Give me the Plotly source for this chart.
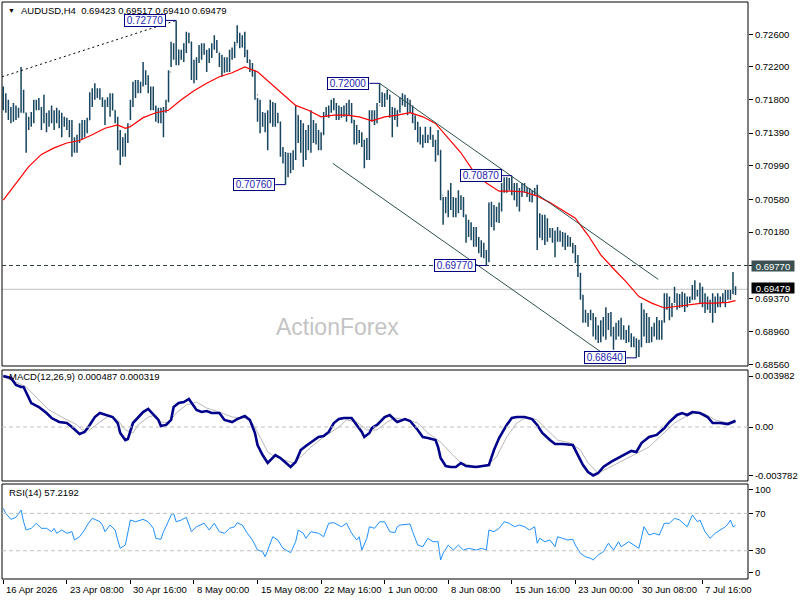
import plotly.graph_objects as go

# ---------------- data ----------------
symbol = "AUDUSD,H4"
first_open = 0.7185

highs = [
    0.7196, 0.7188, 0.7180, 0.7171, 0.7176, 0.7173, 0.7170, 0.7220, 0.7192, 0.7164,
    0.7159, 0.7165, 0.7180, 0.7180, 0.7182, 0.7171, 0.7186, 0.7164, 0.7167, 0.7173,
    0.7167, 0.7170, 0.7167, 0.7164, 0.7159, 0.7158, 0.7155, 0.7155, 0.7134, 0.7137,
    0.7151, 0.7155, 0.7155, 0.7158, 0.7189, 0.7194, 0.7200, 0.7194, 0.7194, 0.7183,
    0.7180, 0.7183, 0.7188, 0.7188, 0.7167, 0.7159, 0.7143, 0.7134, 0.7139, 0.7151,
    0.7180, 0.7202, 0.7204, 0.7204, 0.7202, 0.7226, 0.7216, 0.7210, 0.7196, 0.7196,
    0.7173, 0.7170, 0.7170, 0.7171, 0.7180, 0.7216, 0.7251, 0.7249, 0.7277, 0.7241,
    0.7241, 0.7249, 0.7263, 0.7262, 0.7251, 0.7229, 0.7232, 0.7247, 0.7249, 0.7249,
    0.7241, 0.7243, 0.7249, 0.7259, 0.7253, 0.7237, 0.7235, 0.7232, 0.7232, 0.7241,
    0.7244, 0.7251, 0.7271, 0.7262, 0.7259, 0.7263, 0.7241, 0.7229, 0.7225, 0.7216,
    0.7182, 0.7180, 0.7165, 0.7164, 0.7167, 0.7180, 0.7177, 0.7176, 0.7164, 0.7153,
    0.7122, 0.7116, 0.7115, 0.7115, 0.7118, 0.7173, 0.7161, 0.7155, 0.7151, 0.7143,
    0.7149, 0.7167, 0.7155, 0.7151, 0.7143, 0.7140, 0.7165, 0.7171, 0.7173, 0.7180,
    0.7182, 0.7176, 0.7173, 0.7171, 0.7173, 0.7176, 0.7180, 0.7176, 0.7155, 0.7149,
    0.7143, 0.7140, 0.7131, 0.7133, 0.7167, 0.7167, 0.7167, 0.7176, 0.7200, 0.7189,
    0.7188, 0.7192, 0.7186, 0.7171, 0.7170, 0.7167, 0.7183, 0.7188, 0.7186, 0.7182,
    0.7180, 0.7173, 0.7161, 0.7153, 0.7147, 0.7137, 0.7147, 0.7137, 0.7147, 0.7137,
    0.7131, 0.7143, 0.7118, 0.7061, 0.7061, 0.7069, 0.7078, 0.7061, 0.7060, 0.7069,
    0.7063, 0.7061, 0.7039, 0.7033, 0.7030, 0.7024, 0.7024, 0.7012, 0.7008, 0.7005,
    0.6996, 0.7054, 0.7055, 0.7051, 0.7049, 0.7054, 0.7078, 0.7085, 0.7085, 0.7084,
    0.7087, 0.7078, 0.7078, 0.7072, 0.7078, 0.7078, 0.7073, 0.7072, 0.7069, 0.7072,
    0.7076, 0.7041, 0.7039, 0.7039, 0.7035, 0.7023, 0.7023, 0.7020, 0.7024, 0.7020,
    0.7018, 0.7017, 0.7014, 0.7012, 0.7005, 0.7002, 0.6990, 0.6968, 0.6941, 0.6923,
    0.6919, 0.6923, 0.6919, 0.6914, 0.6904, 0.6910, 0.6914, 0.6926, 0.6919, 0.6920,
    0.6902, 0.6907, 0.6910, 0.6913, 0.6904, 0.6898, 0.6904, 0.6894, 0.6890, 0.6888,
    0.6886, 0.6931, 0.6923, 0.6919, 0.6914, 0.6902, 0.6907, 0.6914, 0.6910, 0.6910,
    0.6943, 0.6943, 0.6939, 0.6931, 0.6951, 0.6943, 0.6942, 0.6945, 0.6943, 0.6939,
    0.6939, 0.6953, 0.6959, 0.6947, 0.6956, 0.6951, 0.6943, 0.6939, 0.6935, 0.6943,
    0.6939, 0.6943, 0.6939, 0.6943, 0.6947, 0.6947, 0.6947, 0.6969, 0.69517,
]

lows = [
    0.7167, 0.7164, 0.7155, 0.7151, 0.7153, 0.7155, 0.7158, 0.7164, 0.7164, 0.7115,
    0.7143, 0.7147, 0.7151, 0.7167, 0.7167, 0.7143, 0.7151, 0.7140, 0.7147, 0.7151,
    0.7143, 0.7151, 0.7145, 0.7134, 0.7147, 0.7143, 0.7134, 0.7110, 0.7115, 0.7115,
    0.7127, 0.7131, 0.7134, 0.7139, 0.7155, 0.7171, 0.7180, 0.7182, 0.7180, 0.7171,
    0.7149, 0.7171, 0.7159, 0.7167, 0.7151, 0.7118, 0.7100, 0.7110, 0.7110, 0.7127,
    0.7155, 0.7171, 0.7182, 0.7188, 0.7188, 0.7196, 0.7198, 0.7188, 0.7167, 0.7167,
    0.7153, 0.7151, 0.7151, 0.7134, 0.7164, 0.7177, 0.7220, 0.7229, 0.7222, 0.7222,
    0.7229, 0.7226, 0.7237, 0.7249, 0.7204, 0.7200, 0.7204, 0.7225, 0.7229, 0.7235,
    0.7214, 0.7225, 0.7231, 0.7241, 0.7237, 0.7220, 0.7208, 0.7213, 0.7214, 0.7214,
    0.7229, 0.7231, 0.7249, 0.7243, 0.7244, 0.7232, 0.7225, 0.7214, 0.7208, 0.7180,
    0.7153, 0.7139, 0.7147, 0.7140, 0.7118, 0.7151, 0.7147, 0.7147, 0.7151, 0.7110,
    0.7102, 0.7076, 0.7085, 0.7090, 0.7094, 0.7106, 0.7127, 0.7115, 0.7098, 0.7106,
    0.7118, 0.7115, 0.7127, 0.7125, 0.7118, 0.7118, 0.7137, 0.7159, 0.7158, 0.7164,
    0.7167, 0.7155, 0.7155, 0.7158, 0.7159, 0.7153, 0.7161, 0.7151, 0.7125, 0.7125,
    0.7127, 0.7122, 0.7096, 0.7106, 0.7106, 0.7153, 0.7149, 0.7151, 0.7176, 0.7171,
    0.7171, 0.7180, 0.7158, 0.7134, 0.7155, 0.7147, 0.7164, 0.7173, 0.7171, 0.7161,
    0.7164, 0.7151, 0.7143, 0.7128, 0.7125, 0.7121, 0.7127, 0.7127, 0.7131, 0.7122,
    0.7104, 0.7112, 0.7057, 0.7027, 0.7041, 0.7036, 0.7045, 0.7036, 0.7036, 0.7041,
    0.7045, 0.7036, 0.7005, 0.7012, 0.7008, 0.7000, 0.7000, 0.6992, 0.6987, 0.6986,
    0.6977, 0.6981, 0.7024, 0.7020, 0.7030, 0.7029, 0.7043, 0.7066, 0.7066, 0.7069,
    0.7063, 0.7057, 0.7049, 0.7043, 0.7061, 0.7066, 0.7061, 0.7055, 0.7054, 0.7063,
    0.6996, 0.7011, 0.7008, 0.7002, 0.7006, 0.7011, 0.7005, 0.6987, 0.7006, 0.7006,
    0.7000, 0.6996, 0.7000, 0.7000, 0.6992, 0.6980, 0.6963, 0.6935, 0.6907, 0.6907,
    0.6902, 0.6910, 0.6890, 0.6886, 0.6882, 0.6883, 0.6890, 0.6886, 0.6898, 0.6890,
    0.6874, 0.6886, 0.6890, 0.6886, 0.6886, 0.6882, 0.6883, 0.6877, 0.6877, 0.6864,
    0.6865, 0.6877, 0.6890, 0.6882, 0.6882, 0.6883, 0.6890, 0.6886, 0.6886, 0.6886,
    0.6907, 0.6923, 0.6910, 0.6914, 0.6931, 0.6923, 0.6925, 0.6926, 0.6920, 0.6926,
    0.6931, 0.6935, 0.6935, 0.6939, 0.6931, 0.6926, 0.6919, 0.6923, 0.6919, 0.6907,
    0.6919, 0.6926, 0.6926, 0.6931, 0.6926, 0.6935, 0.6935, 0.6942, 0.69410,
]

closes = [
    0.7173, 0.7167, 0.7161, 0.7165, 0.7160, 0.7167, 0.7167, 0.7186, 0.7164, 0.7149,
    0.7155, 0.7164, 0.7176, 0.7173, 0.7170, 0.7161, 0.7158, 0.7155, 0.7165, 0.7161,
    0.7164, 0.7161, 0.7158, 0.7151, 0.7153, 0.7149, 0.7149, 0.7131, 0.7127, 0.7133,
    0.7143, 0.7149, 0.7153, 0.7155, 0.7180, 0.7186, 0.7189, 0.7186, 0.7182, 0.7177,
    0.7173, 0.7180, 0.7180, 0.7167, 0.7158, 0.7131, 0.7118, 0.7125, 0.7137, 0.7149,
    0.7173, 0.7192, 0.7194, 0.7198, 0.7198, 0.7210, 0.7204, 0.7192, 0.7180, 0.7170,
    0.7161, 0.7161, 0.7161, 0.7167, 0.7177, 0.7214, 0.7241, 0.7235, 0.7241, 0.7232,
    0.7235, 0.7243, 0.7255, 0.7251, 0.7216, 0.7222, 0.7229, 0.7241, 0.7241, 0.7238,
    0.7229, 0.7235, 0.7247, 0.7247, 0.7238, 0.7229, 0.7219, 0.7222, 0.7229, 0.7235,
    0.7238, 0.7247, 0.7255, 0.7253, 0.7253, 0.7238, 0.7229, 0.7222, 0.7216, 0.7186,
    0.7161, 0.7155, 0.7158, 0.7149, 0.7161, 0.7167, 0.7170, 0.7161, 0.7153, 0.7118,
    0.7112, 0.7100, 0.7106, 0.7104, 0.7112, 0.7161, 0.7137, 0.7131, 0.7131, 0.7137,
    0.7143, 0.7149, 0.7143, 0.7137, 0.7131, 0.7137, 0.7161, 0.7165, 0.7170, 0.7173,
    0.7170, 0.7165, 0.7165, 0.7165, 0.7167, 0.7170, 0.7167, 0.7155, 0.7143, 0.7137,
    0.7134, 0.7128, 0.7118, 0.7125, 0.7161, 0.7161, 0.7165, 0.7173, 0.7186, 0.7180,
    0.7186, 0.7183, 0.7167, 0.7165, 0.7161, 0.7167, 0.7180, 0.7180, 0.7180, 0.7173,
    0.7170, 0.7158, 0.7149, 0.7137, 0.7133, 0.7131, 0.7133, 0.7134, 0.7134, 0.7127,
    0.7125, 0.7118, 0.7063, 0.7045, 0.7051, 0.7063, 0.7057, 0.7051, 0.7057, 0.7057,
    0.7051, 0.7039, 0.7023, 0.7020, 0.7020, 0.7014, 0.7008, 0.7002, 0.6996, 0.6990,
    0.6986, 0.7045, 0.7039, 0.7039, 0.7045, 0.7051, 0.7072, 0.7076, 0.7076, 0.7078,
    0.7069, 0.7063, 0.7057, 0.7069, 0.7069, 0.7069, 0.7066, 0.7063, 0.7067, 0.7069,
    0.7027, 0.7027, 0.7027, 0.7027, 0.7018, 0.7018, 0.7014, 0.7014, 0.7014, 0.7008,
    0.7008, 0.7008, 0.7006, 0.7002, 0.6996, 0.6986, 0.6965, 0.6941, 0.6916, 0.6913,
    0.6916, 0.6913, 0.6898, 0.6898, 0.6894, 0.6898, 0.6910, 0.6910, 0.6908, 0.6898,
    0.6892, 0.6898, 0.6904, 0.6894, 0.6892, 0.6892, 0.6890, 0.6886, 0.6883, 0.6874,
    0.6883, 0.6923, 0.6898, 0.6904, 0.6892, 0.6898, 0.6904, 0.6898, 0.6904, 0.6908,
    0.6935, 0.6929, 0.6923, 0.6929, 0.6939, 0.6935, 0.6935, 0.6935, 0.6932, 0.6935,
    0.6935, 0.6947, 0.6945, 0.6945, 0.6941, 0.6935, 0.6929, 0.6929, 0.6929, 0.6935,
    0.6935, 0.6935, 0.6935, 0.6939, 0.6941, 0.6941, 0.6943, 0.69423, 0.69479,
]

opens = [first_open] + closes[:-1]

# red moving average (bar index, value)
ma_i = [0, 5, 10, 15, 20, 25, 30, 35, 40, 45, 48, 50, 55, 60, 65, 70, 75, 80, 85, 90,
        95, 100, 105, 110, 115, 120, 125, 130, 135, 140, 145, 150, 155, 160, 165, 170,
        175, 180, 185, 190, 195, 200, 205, 210, 215, 220, 225, 230, 235, 240, 245, 250,
        255, 260, 265, 270, 275, 280, 285, 288]
ma_v = [0.7057, 0.7078, 0.7098, 0.7113, 0.7121, 0.7127, 0.7130, 0.7137, 0.7145, 0.7149,
        0.7145, 0.7147, 0.7158, 0.7164, 0.7167, 0.7180, 0.7191, 0.7200, 0.7208, 0.7213,
        0.7220, 0.7214, 0.7200, 0.7186, 0.7173, 0.7167, 0.7159, 0.7161, 0.7161, 0.7159,
        0.7154, 0.7159, 0.7161, 0.7164, 0.7159, 0.7151, 0.7133, 0.7115, 0.7092, 0.7078,
        0.7068, 0.7068, 0.7067, 0.7062, 0.7054, 0.7045, 0.7035, 0.7014, 0.6990, 0.6973,
        0.6957, 0.6939, 0.6931, 0.6925, 0.6927, 0.6929, 0.6931, 0.6931, 0.6932, 0.6934]

# MACD main line (bar index, value)
macd_i = [0, 3, 5, 7, 8, 9, 11, 14, 17, 19, 22, 25, 27, 30, 32, 34, 36, 38, 41, 43,
          45, 46, 48, 49, 51, 53, 55, 57, 59, 61, 62, 64, 66, 67, 69, 71, 73, 74, 76, 78,
          80, 82, 85, 87, 90, 92, 95, 97, 99, 100, 102, 104, 105, 107, 109, 111, 113, 115,
          117, 119, 121, 124, 126, 128, 130, 132, 134, 137, 139, 141, 142, 144, 145, 147,
          150, 152, 154, 155, 158, 160, 163, 165, 167, 170, 171, 172, 174, 176, 178, 180,
          182, 186, 191, 193, 195, 198, 200, 202, 205, 208, 210, 212, 215, 217, 220, 224,
          226, 228, 230, 232, 234, 236, 239, 242, 244, 247, 249, 251, 254, 257, 260, 262,
          265, 267, 269, 271, 274, 277, 279, 282, 285, 287, 288]
macd_v = [0.003982, 0.00383, 0.00328, 0.00312, 0.00312, 0.00266, 0.00187, 0.00156, 0.00109, 0.00070,
          0.00039, 0.00031, 0.0, -0.00055, -0.00039, 0.00016, 0.00078, 0.00109, 0.00094, 0.00078,
          0.00031, -0.00047, -0.00102, -0.00094, 0.00031, 0.00070, 0.00117, 0.00141, 0.00094, 0.00055,
          0.00008, 0.00016, 0.00055, 0.00156, 0.00187, 0.00195, 0.00219, 0.00187, 0.00133, 0.00117,
          0.00125, 0.00109, 0.00109, 0.00055, 0.00039, 0.00062, 0.00086, 0.00055, -0.00047, -0.00141,
          -0.00219, -0.00281, -0.00258, -0.00219, -0.00242, -0.00281, -0.00312, -0.00273,
          -0.00180, -0.00148, -0.00117, -0.00078, -0.00070, -0.00039, 0.00031, 0.00062, 0.00070, 0.00070,
          0.00016, -0.00039, -0.00078, -0.00047, -0.00008, 0.00016,
          0.00078, 0.00094, 0.00055, 0.00039, 0.00062, 0.00047, -0.00023, -0.00078, -0.00086, -0.00102,
          -0.00156, -0.00242, -0.00305, -0.00312, -0.00312, -0.00281,
          -0.00305, -0.00312, -0.00297, -0.00180, -0.00086, 0.00016, 0.00070, 0.00078, 0.00078, 0.00062,
          0.00016, -0.00047, -0.00102, -0.00133, -0.00133, -0.00141,
          -0.00219, -0.00297, -0.00351, -0.003782, -0.00359, -0.00312, -0.00273, -0.00242, -0.00219,
          -0.00187, -0.00195, -0.00125, -0.00078, -0.00062, -0.00008, 0.00039,
          0.00094, 0.00109, 0.00094, 0.00117, 0.00109, 0.00078, 0.00031, 0.00031, 0.00023, 0.00039, 0.000487]

# MACD signal line (bar index, value)
sig_i = [0, 1, 5, 9, 13, 18, 23, 29, 31, 34, 38, 42, 45, 48, 51, 53, 57, 60, 62, 65, 68, 72,
         76, 80, 85, 90, 95, 98, 101, 104, 107, 111, 114, 117, 121, 126, 132, 135, 139, 143,
         147, 151, 154, 159, 163, 167, 172, 176, 180, 185, 190, 194, 198, 202, 206, 210, 214,
         218, 223, 227, 230, 234, 238, 244, 249, 254, 259, 264, 268, 272, 276, 280, 285, 288]
sig_v = [0.0039, 0.00383, 0.00351, 0.00312, 0.00234, 0.00133, 0.00078, 0.00016, -0.00023, -0.00023,
         0.00039, 0.00094, 0.00055, -0.00023, -0.00047, 0.00016, 0.00078, 0.00094, 0.00039, 0.00031,
         0.00109, 0.00172, 0.00195, 0.00148, 0.00117, 0.00078, 0.00070, 0.00031, -0.00078, -0.00195,
         -0.00234, -0.00258, -0.00281, -0.00234, -0.00156, -0.00078, 0.0, 0.00055, 0.00039, -0.00023,
         -0.00023, 0.00039, 0.00070, 0.00055, 0.00031, -0.00047, -0.00117, -0.00203, -0.00281, -0.00305,
         -0.00305, -0.00234, -0.00078, 0.00031, 0.00078, 0.00055, -0.00023, -0.00102, -0.00125, -0.00180,
         -0.00281, -0.00359, -0.00320, -0.00258, -0.00203, -0.00156, -0.00062, 0.00031, 0.00078, 0.00109,
         0.00102, 0.00055, 0.00031, 0.000319]

# RSI(14) (bar index, value)
rsi_i = [0, 1, 3, 5, 7, 8, 9, 11, 13, 15, 17, 19, 20, 21, 23, 25, 27, 28, 30, 32, 33, 35, 36,
         38, 39, 40, 42, 44, 45, 46, 48, 49, 50, 52, 55, 57, 59, 60, 62, 63, 64, 66, 67, 68,
         70, 72, 74, 76, 79, 81, 83, 85, 87, 89, 91, 92, 94, 96, 98, 100, 102, 103, 105, 106,
         108, 110, 113, 115, 116, 118, 119, 121, 124, 126, 128, 130, 133, 135, 137, 139, 140,
         141, 143, 144, 146, 148, 150, 152, 154, 155, 156, 160, 161, 163, 165, 167, 169, 171,
         172, 173, 175, 177, 179, 181, 183, 186, 188, 190, 191, 193, 195, 197, 199, 201, 203,
         205, 207, 209, 210, 211, 213, 215, 217, 218, 220, 222, 224, 225, 227, 229, 231, 232,
         234, 236, 238, 240, 242, 243, 246, 248, 250, 252, 254, 256, 258, 260, 262, 264, 266,
         269, 271, 273, 274, 276, 278, 280, 282, 284, 285, 286, 287, 288]
rsi_v = [75.4, 70.0, 63.6, 65.8, 73.6, 61.0, 52.2, 54.0, 59.4, 54.0, 54.0, 50.4, 54.0, 48.7,
         52.2, 48.7, 50.4, 41.5, 45.0, 52.2, 57.5, 64.7, 63.6, 61.0, 57.5, 50.4, 57.5, 52.2,
         41.5, 32.6, 36.1, 48.7, 62.9, 61.0, 63.6, 61.0, 54.0, 43.3, 42.2, 50.4, 55.7, 68.2,
         70.0, 61.0, 62.9, 65.8, 50.4, 55.7, 59.4, 52.2, 59.4, 50.4, 48.7, 54.0, 55.7, 60.0,
         57.5, 48.7, 41.5, 30.8, 29.0, 23.6, 38.0, 45.0, 41.5, 32.6, 27.9, 39.7, 52.2, 48.7,
         43.3, 50.4, 48.7, 45.0, 59.4, 60.0, 55.7, 59.4, 48.7, 41.5, 45.0, 30.8, 43.3, 55.7,
         54.0, 61.0, 61.0, 50.4, 49.3, 55.7, 57.5, 58.6, 50.4, 36.1, 34.3, 43.3, 39.7, 39.7,
         20.1, 27.3, 36.1, 30.8, 36.1, 30.8, 32.6, 30.8, 32.6, 30.8, 52.2, 50.4, 54.0, 61.0,
         59.4, 55.7, 57.5, 55.7, 52.2, 55.7, 38.0, 43.3, 39.7, 41.5, 34.3, 45.0, 43.3, 41.5,
         42.2, 36.1, 27.3, 23.6, 21.9, 20.1, 25.5, 29.0, 38.0, 30.8, 39.7, 34.3, 39.7, 36.1,
         32.6, 55.7, 46.8, 48.7, 46.8, 59.4, 59.4, 64.7, 62.9, 55.7, 68.2, 61.0, 62.9, 50.4,
         43.3, 48.7, 52.2, 55.7, 58.5, 62.9, 55.7, 57.2192]

# marked swing highs / lows (bar index, price)
swing_points = [(68, 0.7277), (148, 0.7200), (111, 0.7076), (200, 0.7087),
                (190, 0.6977), (249, 0.6864)]
level_price = 0.6977
# trend lines: ((bar index, price), (bar index, price))
dotted_line = ((-0.5, 0.7208), (68, 0.7277))
channel_upper = ((148, 0.7200), (257.6, 0.6960))
channel_lower = ((129.6, 0.7102), (237.0, 0.6867))

price_ticks = [0.726, 0.722, 0.718, 0.7139, 0.7099, 0.7058, 0.7018, 0.6977, 0.6937, 0.6896, 0.6856]
macd_ticks = [0.003982, 0.0, -0.003782]
macd_tick_text = ["0.003982", "0.00", "-0.003782"]
rsi_ticks = [95, 70, 30, 6.5]
rsi_tick_text = ["100", "70", "30", "0"]

x_label_idx = [0, 25, 50, 75, 100, 125, 150, 175, 200, 225, 250, 275]
x_label_text = ["16 Apr 2026", "23 Apr 08:00", "30 Apr 16:00", "8 May 00:00",
                "15 May 08:00", "22 May 16:00", "1 Jun 00:00", "8 Jun 08:00",
                "15 Jun 16:00", "23 Jun 00:00", "30 Jun 08:00", "7 Jul 16:00"]

# ---------------- styling / layout ----------------
FONT = "Liberation Sans"
FS = 9.5
BAR_COLOR = "#17455f"
W, H = 800, 600
ML, MR, MT, MB = 2, 47, 2, 21
PLOT_TOP, PLOT_BOT = MT, H - MB  # 2 .. 579


def py(pix):
    return (PLOT_BOT - pix) / (PLOT_BOT - PLOT_TOP)


main_dom = [py(366), py(PLOT_TOP)]
macd_dom = [py(481), py(370)]
rsi_dom = [py(PLOT_BOT), py(484)]

n = len(closes)
xs = list(range(n))

fig = go.Figure()
fig.add_trace(go.Ohlc(
    x=xs, open=opens, high=highs, low=lows, close=closes,
    increasing=dict(line=dict(color=BAR_COLOR, width=1.5)),
    decreasing=dict(line=dict(color=BAR_COLOR, width=1.5)),
    tickwidth=0.2, xaxis="x", yaxis="y", hoverinfo="skip", showlegend=False))
fig.add_trace(go.Scatter(x=ma_i, y=ma_v, mode="lines", line=dict(color="#ff0000", width=1.2),
                         xaxis="x", yaxis="y", hoverinfo="skip"))
fig.add_trace(go.Scatter(x=sig_i, y=sig_v, mode="lines", line=dict(color="#b8b8b8", width=1),
                         xaxis="x", yaxis="y2", hoverinfo="skip"))
fig.add_trace(go.Scatter(x=macd_i, y=macd_v, mode="lines", line=dict(color="#00008b", width=2.6),
                         xaxis="x", yaxis="y2", hoverinfo="skip"))
fig.add_trace(go.Scatter(x=rsi_i, y=rsi_v, mode="lines", line=dict(color="#1e90ff", width=1),
                         xaxis="x", yaxis="y3", hoverinfo="skip"))

shapes = []
# panel frames
for dom in (main_dom, macd_dom, rsi_dom):
    shapes.append(dict(type="rect", xref="paper", yref="paper", x0=0, x1=1, y0=dom[0], y1=dom[1],
                       line=dict(color="#000000", width=1), fillcolor="rgba(0,0,0,0)", layer="above"))
# current price line and level line
shapes.append(dict(type="line", xref="paper", yref="y", x0=0, x1=1, y0=closes[-1], y1=closes[-1],
                   line=dict(color="#c0c0c0", width=1), layer="below"))
shapes.append(dict(type="line", xref="paper", yref="y", x0=0, x1=1, y0=level_price, y1=level_price,
                   line=dict(color="#2f3f3f", width=1, dash="4px,3px")))
# trend lines
shapes.append(dict(type="line", xref="x", yref="y", x0=dotted_line[0][0], y0=dotted_line[0][1],
                   x1=dotted_line[1][0], y1=dotted_line[1][1],
                   line=dict(color="#000000", width=1, dash="2px,3px")))
for (a, b) in (channel_upper, channel_lower):
    shapes.append(dict(type="line", xref="x", yref="y", x0=a[0], y0=a[1], x1=b[0], y1=b[1],
                       line=dict(color="#2f4f4f", width=1)))
# swing label connectors
for (i, p) in swing_points:
    shapes.append(dict(type="line", xref="x", yref="y", x0=i - 4, x1=i, y0=p, y1=p,
                       line=dict(color="#000080", width=1)))
# MACD zero, RSI 70 / 30
shapes.append(dict(type="line", xref="paper", yref="y2", x0=0, x1=1, y0=0, y1=0,
                   line=dict(color="#c0c0c0", width=1, dash="4px,3px")))
for lv in (70, 30):
    shapes.append(dict(type="line", xref="paper", yref="y3", x0=0, x1=1, y0=lv, y1=lv,
                       line=dict(color="#c0c0c0", width=1, dash="4px,3px")))

ann = []
# header
ann.append(dict(xref="paper", yref="paper", x=0, y=1, xshift=4, yshift=-8, xanchor="left",
                yanchor="middle", showarrow=False, text="▼",
                font=dict(family=FONT, size=7, color="#000000")))
ann.append(dict(xref="paper", yref="paper", x=0, y=1, xshift=17, yshift=-8, xanchor="left",
                yanchor="middle", showarrow=False,
                text=f"{symbol}  {opens[-1]:.5f} {highs[-1]:.5f} {lows[-1]:.5f} {closes[-1]:.5f}",
                font=dict(family=FONT, size=FS, color="#000000")))
ann.append(dict(xref="paper", yref="paper", x=0, y=macd_dom[1], xshift=5, yshift=-7,
                xanchor="left", yanchor="middle", showarrow=False,
                text=f"MACD(12,26,9) {macd_v[-1]:.6f} {sig_v[-1]:.6f}",
                font=dict(family=FONT, size=FS, color="#000000")))
ann.append(dict(xref="paper", yref="paper", x=0, y=rsi_dom[1], xshift=5, yshift=-8,
                xanchor="left", yanchor="middle", showarrow=False,
                text=f"RSI(14) {rsi_v[-1]:.4f}",
                font=dict(family=FONT, size=FS, color="#000000")))
# watermark
ann.append(dict(xref="paper", yref="paper", x=(340 - ML) / (W - ML - MR), y=py(327),
                xanchor="center", yanchor="middle", showarrow=False, text="ActionForex",
                font=dict(family="Liberation Sans", size=23, color="#c4c4c4")))
# swing labels
for (i, p) in swing_points:
    ann.append(dict(xref="x", yref="y", x=i - 4, y=p, xanchor="right", yanchor="middle",
                    showarrow=False, text=f"{p:.5f}", bgcolor="#ffffff",
                    bordercolor="#000080", borderwidth=1, borderpad=0, width=40, height=11,
                    font=dict(family=FONT, size=FS + 0.5, color="#2424b0")))
# right side price tags
ann.append(dict(xref="paper", yref="y", x=1, y=level_price, xanchor="left", yanchor="middle",
                xshift=3, showarrow=False, text=f"{level_price:.5f}", bgcolor="#3c5252",
                borderpad=0, width=42, height=10, font=dict(family=FONT, size=FS, color="#ffffff")))
ann.append(dict(xref="paper", yref="y", x=1, y=closes[-1], xanchor="left", yanchor="middle",
                xshift=3, yshift=1, showarrow=False, text=f"{closes[-1]:.5f}", bgcolor="#000000",
                borderpad=0, width=42, height=10, font=dict(family=FONT, size=FS, color="#ffffff")))
# x labels
for xi, tx in zip(x_label_idx, x_label_text):
    ann.append(dict(xref="x", yref="paper", x=xi, y=0, xshift=1, yshift=-10, xanchor="left",
                    yanchor="middle", showarrow=False, text=tx,
                    font=dict(family=FONT, size=FS, color="#000000")))

yax_common = dict(side="right", ticks="outside", ticklen=4, tickcolor="#000000", tickwidth=1,
                  showgrid=False, zeroline=False, showline=False, anchor="x",
                  tickfont=dict(family=FONT, size=FS, color="#000000"), fixedrange=True)

fig.update_layout(
    width=W, height=H, margin=dict(l=ML, r=MR, t=MT, b=MB),
    paper_bgcolor="#ffffff", plot_bgcolor="#ffffff", showlegend=False,
    font=dict(family=FONT, size=FS, color="#000000"),
    xaxis=dict(range=[-0.5, 292.9], domain=[0, 1], anchor="y3", showgrid=False, zeroline=False,
               showline=False, ticks="outside", ticklen=4, tickcolor="#000000",
               tickvals=x_label_idx, showticklabels=False, fixedrange=True,
               rangeslider=dict(visible=False)),
    yaxis=dict(domain=main_dom, range=[0.68540, 0.729955], tickvals=price_ticks,
               ticktext=[f"{v:.5f}" for v in price_ticks], **yax_common),
    yaxis2=dict(domain=macd_dom, range=[-0.004217, 0.004452], tickvals=macd_ticks,
                ticktext=macd_tick_text, **yax_common),
    yaxis3=dict(domain=rsi_dom, range=[-0.2, 101.4], tickvals=rsi_ticks,
                ticktext=rsi_tick_text, **yax_common),
    shapes=shapes, annotations=ann,
)

fig.write_html("out.html", config={"displayModeBar": False})
